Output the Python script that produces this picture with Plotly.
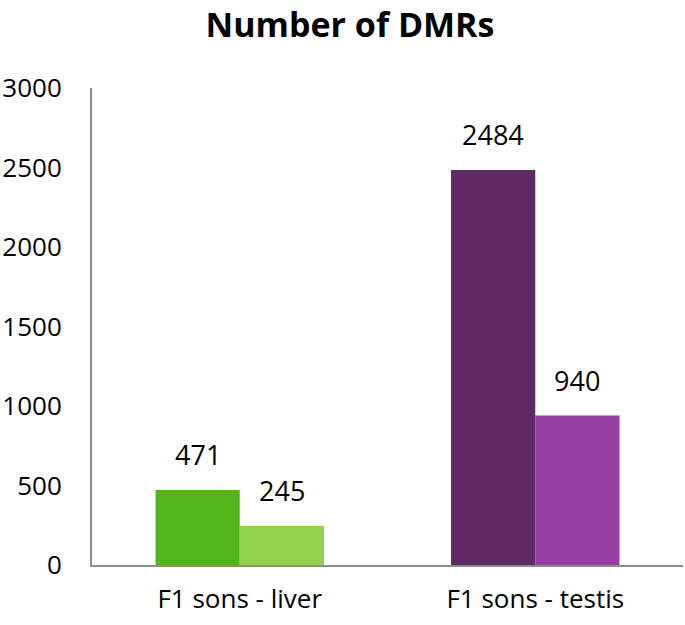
import plotly.graph_objects as go

categories = ["F1 sons - liver", "F1 sons - testis"]
series1 = [471, 2484]
series2 = [245, 940]
colors1 = ["#52B51C", "#5F2966"]
colors2 = ["#92D050", "#953FA3"]
yticks = [0, 500, 1000, 1500, 2000, 2500, 3000]

FONT = "Open Sans"

fig = go.Figure()
fig.add_bar(x=categories, y=series1, marker=dict(color=colors1, line=dict(width=0)),
            offsetgroup="a", showlegend=False, hoverinfo="skip")
fig.add_bar(x=categories, y=series2, marker=dict(color=colors2, line=dict(width=0)),
            offsetgroup="b", showlegend=False, hoverinfo="skip")

for vals, shift in ((series1, -42), (series2, 42)):
    for c, v in zip(categories, vals):
        fig.add_annotation(x=c, y=v, xref="x", yref="y", text=str(v), showarrow=False,
                           xshift=shift, yanchor="bottom", yshift=15,
                           font=dict(family=FONT, size=27, color="#000000"))

fig.update_layout(
    width=685, height=625,
    margin=dict(l=92, r=2, t=88, b=60, autoexpand=False),
    paper_bgcolor="white", plot_bgcolor="white",
    barmode="group", bargap=0.43, bargroupgap=0,
    title=dict(text="<b>Number of DMRs</b>", x=0.511, xref="container", xanchor="center",
               y=1 - 25 / 625, yref="container", yanchor="middle",
               font=dict(family=FONT, size=34, color="#000000")),
    font=dict(family=FONT, size=26, color="#000000"),
)
fig.update_xaxes(showline=True, linecolor="#8C8C8C", linewidth=2, showgrid=False,
                 ticks="", tickfont=dict(size=26), ticklabelstandoff=10, automargin=False)
fig.update_yaxes(range=[0, 3000], tickvals=yticks, showline=True, linecolor="#8C8C8C",
                 linewidth=2, showgrid=False, zeroline=False, ticks="",
                 tickfont=dict(size=26), ticklabelstandoff=23, automargin=False)

fig.write_html("out.html", config={"displayModeBar": False},
               post_script="document.body.style.margin='0';")
